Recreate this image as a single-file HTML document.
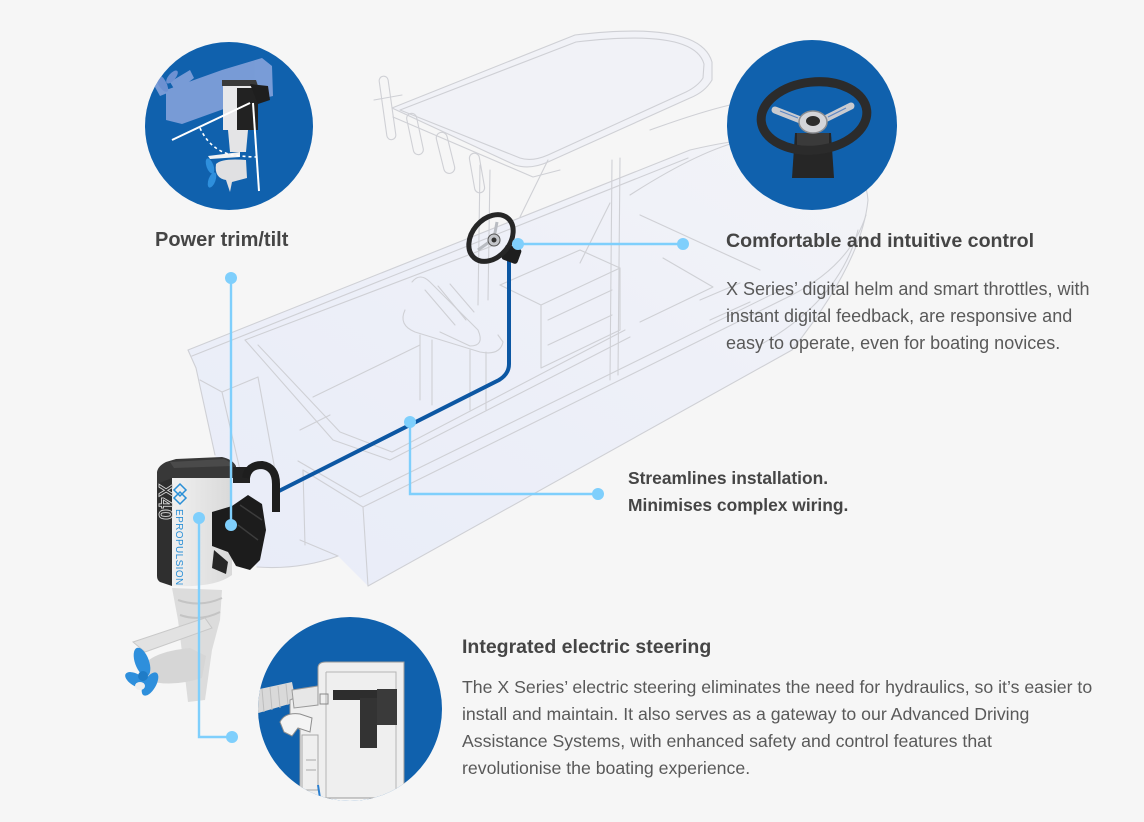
<!DOCTYPE html>
<html><head><meta charset="utf-8">
<style>
html,body{margin:0;padding:0;background:#f6f6f6;}
body{width:1144px;height:822px;position:relative;overflow:hidden;font-family:"Liberation Sans",Arial,sans-serif;}
svg{position:absolute;left:0;top:0;}
.t{position:absolute;white-space:nowrap;}
.h{font-weight:bold;font-size:19.6px;line-height:24px;color:#454545;}
.p{font-size:18px;line-height:27px;color:#595959;}
</style></head><body>
<svg width="1144" height="822" viewBox="0 0 1144 822" xmlns="http://www.w3.org/2000/svg">
<defs>
  <linearGradient id="hullg" x1="0" y1="1" x2="1" y2="0">
    <stop offset="0" stop-color="#e8ecf8"/>
    <stop offset="0.6" stop-color="#eef0f8"/>
    <stop offset="1" stop-color="#f3f4f7"/>
  </linearGradient>
  <linearGradient id="cowlg" x1="0" y1="0" x2="1" y2="0">
    <stop offset="0" stop-color="#f0f0f0"/>
    <stop offset="1" stop-color="#d9d9d9"/>
  </linearGradient>
  <clipPath id="c1"><circle cx="229" cy="126" r="84"/></clipPath>
  <clipPath id="c2"><circle cx="812" cy="125" r="85"/></clipPath>
  <clipPath id="c3"><circle cx="350" cy="709" r="92"/></clipPath>
</defs>

<!-- ===== BOAT ===== -->
<g stroke-linejoin="round" stroke-linecap="round">
  <path d="M188,350 L690,150 Q860,110 868,200 Q862,262 792,350 L368,586 L338,556 Q300,570 257,567 L240,540 L215,455 L196,368 Z" fill="url(#hullg)"/>
  <path d="M392,108 L575,35 Q700,20 712,62 L712,80 Q705,92 690,98 L548,162 Q530,170 515,165 Z" fill="#f1f2f7"/>
</g>
<g fill="none" stroke="#cfd0d5" stroke-width="1.1" stroke-linejoin="round" stroke-linecap="round">
  <path d="M188,350 L690,150 Q860,110 868,200 Q862,262 792,350 L368,586"/>
  <path d="M192,356 L688,158"/>
  <path d="M188,350 L196,368 L215,455"/>
  <path d="M200,380 L222,392 L240,470"/>
  <path d="M222,392 L258,377 L275,470"/>
  <path d="M303,470 L305,545"/>
  <path d="M363,507 L368,586"/>
  <path d="M338,556 Q300,570 257,567"/>
  <path d="M300,540 L338,556"/>
  <path d="M303,470 L363,507 L790,296 Q850,266 866,215"/>
  <path d="M298,461 L360,497 L785,288"/>
  <path d="M245,340 L500,243"/>
  <path d="M245,340 L333,440 L390,460 L630,337"/>
  <path d="M258,345 L340,432 L392,452 L625,330"/>
  <path d="M313,397 L420,345"/>
  <path d="M330,415 L300,430"/>
  <path d="M541,305 L541,368 M500,285 L541,305 L620,268 M541,368 L620,330 L620,268 M500,285 L580,250 L620,268"/>
  <path d="M548,320 L612,290 M548,345 L612,315"/>
  <path d="M412,282 Q420,272 430,282 L478,330 Q485,346 470,346 L440,332"/>
  <path d="M405,310 Q398,325 415,332 L480,352 Q500,356 503,342 L498,335"/>
  <path d="M420,335 L420,400 M432,340 L432,405 M470,350 L470,410 M486,352 L486,410"/>
  <path d="M425,290 L455,325 M438,286 L466,320 M450,284 L474,312"/>
  <path d="M392,108 L575,35 Q700,20 712,62 L712,80 Q705,92 690,98 L548,162 Q530,170 515,165 Z"/>
  <path d="M400,110 L576,42 Q694,28 704,64 L703,78 Q698,86 686,92 L548,155 Q532,162 520,158 Z"/>
  <path d="M393,117 L533,177 L560,170"/>
  <path d="M480,165 L478,305 M490,170 L488,300"/>
  <path d="M612,160 L610,380 M620,158 L618,375"/>
  <path d="M580,263 L610,203 M548,160 L520,217"/>
  <path d="M374,100 L402,95"/>
  <rect x="383" y="76" width="9" height="64" rx="4.5" transform="rotate(-8 387 108)"/>
  <rect x="410" y="113" width="10" height="42" rx="5" transform="rotate(-12 415 134)"/>
  <rect x="440" y="132" width="11" height="42" rx="5.5" transform="rotate(-14 445 153)"/>
  <rect x="472" y="153" width="10" height="40" rx="5" transform="rotate(-10 477 173)"/>
  <path d="M630,195 Q700,150 745,140"/>
  <path d="M650,130 Q700,112 730,105"/>
  <path d="M640,215 L760,270"/>
  <path d="M663,258 L713,287 L640,322"/>
  <path d="M700,300 L740,283 M710,320 L750,302"/>
  <path d="M760,345 Q840,300 858,230"/>
</g>

<!-- connectors (light blue) -->
<g fill="none" stroke="#7fcffc" stroke-width="2.4">
  <path d="M518,244 L683,244"/>
  <path d="M410,422 L410,494 L598,494"/>
</g>

<!-- dark cable -->
<path d="M509,258 L509,364 Q509,374 499,380 L275,493" fill="none" stroke="#0c57a3" stroke-width="4"/>

<!-- small steering wheel on boat -->
<g>
  <rect x="503" y="246" width="17" height="16" rx="3" fill="#1e1e1e" transform="rotate(20 511 254)"/>
  <ellipse cx="491" cy="238" rx="19" ry="26" transform="rotate(40 491 238)" fill="none" stroke="#262626" stroke-width="5"/>
  <path d="M478,250 L492,240 M497,222 L494,238" stroke="#b9bcc2" stroke-width="3"/>
  <circle cx="494" cy="240" r="6" fill="#c4c6cb" stroke="#555" stroke-width="1"/>
  <circle cx="494" cy="240" r="2.5" fill="#333"/>
</g>

<!-- ===== OUTBOARD MOTOR ===== -->
<g>
  <path d="M172,588 L222,590 L220,620 L212,650 L205,700 L188,702 L183,660 L178,620 Z" fill="#dcdcdc"/>
  <path d="M178,600 Q200,608 222,598 M180,615 Q200,622 220,612" stroke="#c4c4c4" stroke-width="2" fill="none"/>
  <path d="M133,642 L205,618 L212,628 L145,652 Z" fill="#e2e2e2" stroke="#c8c8c8" stroke-width="1"/>
  <path d="M142,668 Q150,652 190,648 L206,656 L202,678 Q170,688 146,680 Z" fill="#d6d6d6"/>
  <g fill="#2e8fdc">
    <ellipse cx="142" cy="662" rx="7" ry="15" transform="rotate(-20 142 662)"/>
    <ellipse cx="150" cy="684" rx="6" ry="13" transform="rotate(30 150 684)"/>
    <ellipse cx="136" cy="680" rx="6" ry="12" transform="rotate(-60 136 680)"/>
    <circle cx="143" cy="676" r="5" fill="#1f7cc7"/>
  </g>
  <ellipse cx="140" cy="686" rx="5" ry="4" fill="#eeeeee"/>
  <!-- cowl -->
  <path d="M157,476 L172,476 L172,586 L160,582 Q157,580 157,576 Z" fill="#2f2f2f"/>
  <path d="M172,476 L232,476 L232,575 Q215,588 172,586 Z" fill="url(#cowlg)"/>
  <path d="M157,484 L157,472 Q158,466 166,462 L176,459 L222,457 Q232,459 236,466 L236,478 L172,478 L157,484 Z" fill="#383838"/>
  <path d="M170,462 L224,459 Q230,461 232,466 L174,468 Z" fill="#4a4a4a"/>
  <!-- X40 text -->
  <text x="0" y="0" transform="translate(159,484) rotate(90)" font-family="Liberation Sans, sans-serif" font-size="19" font-weight="bold" fill="none" stroke="#d6d6d6" stroke-width="0.9" letter-spacing="1">X40</text>
  <!-- EPROPULSION logo -->
  <g transform="translate(180,490)">
    <path d="M0,-6 L6,0 L0,6 L-6,0 Z M0,2 L6,8 L0,14 L-6,8 Z" fill="none" stroke="#2a8fd6" stroke-width="1.5"/>
  </g>
  <text x="0" y="0" transform="translate(176,509) rotate(90)" font-family="Liberation Sans, sans-serif" font-size="10" fill="#2a8fd6" letter-spacing="0.4">EPROPULSION</text>
  <!-- bracket -->
  <path d="M233,467 L250,467 L250,483 L233,483 Z" fill="#222"/>
  <path d="M212,512 L232,506 L248,495 L262,504 L266,530 L260,560 L250,570 L236,566 L228,552 L212,546 Z" fill="#1c1c1c"/>
  <path d="M214,550 L228,562 L226,574 L212,568 Z" fill="#262626"/>
  <path d="M240,505 L262,520 M238,525 L258,540" stroke="#3c3c3c" stroke-width="1.5"/>
  <!-- hose -->
  <path d="M246,478 Q248,465 262,465 Q276,467 276,484 L276,512" fill="none" stroke="#1e1e1e" stroke-width="8"/>
</g>

<!-- connectors over outboard -->
<g fill="none" stroke="#7fcffc" stroke-width="2.4">
  <path d="M231,278 L231,525"/>
  <path d="M199,518 L199,737 L232,737"/>
</g>

<!-- ===== CIRCLE 1 ===== -->
<circle cx="229" cy="126" r="84" fill="#1061ad"/>
<g clip-path="url(#c1)">
  <g fill="#7f9fd9" opacity="0.95">
    <path d="M166,90 L222,70 L262,58 L272,66 L273,96 L232,106 L182,124 L166,120 Z"/>
    <path d="M150,78 L160,74 L170,92 L160,96 Z"/>
    <path d="M170,82 L190,70 L194,78 L176,92 Z"/>
  </g>
  <g fill="#6d91d2">
    <ellipse cx="162" cy="83" rx="4" ry="10" transform="rotate(-30 162 83)"/>
    <ellipse cx="172" cy="77" rx="3.5" ry="8" transform="rotate(40 172 77)"/>
  </g>
  <path d="M223,84 L256,84 L256,130 L223,130 Z" fill="#e8e8ea"/>
  <path d="M237,88 L258,88 L258,130 L237,130 Z" fill="#222"/>
  <path d="M222,80 L256,80 L258,86 L222,86 Z" fill="#3a3a3a"/>
  <path d="M250,84 L268,86 L270,100 L258,104 Z" fill="#1e1e1e"/>
  <path d="M228,130 L248,130 L246,152 L230,152 Z" fill="#e4e4e6"/>
  <path d="M208,156 L240,152 L240,157 L210,159 Z" fill="#f2f2f2"/>
  <path d="M216,164 Q222,158 246,160 L247,178 L232,182 L230,192 L226,180 Q214,178 216,164 Z" fill="#e0e0e2"/>
  <g fill="#2e8fdc">
    <ellipse cx="210" cy="166" rx="3.5" ry="8" transform="rotate(-20 210 166)"/>
    <ellipse cx="212" cy="180" rx="3.5" ry="8" transform="rotate(20 212 180)"/>
  </g>
  <path d="M172,140 L250,103" stroke="#ffffff" stroke-width="2" fill="none"/>
  <path d="M253,103 L259,191" stroke="#ffffff" stroke-width="2" fill="none"/>
  <path d="M200,128 Q210,150 232,155 Q248,157 258,157" stroke="#ffffff" stroke-width="1.6" stroke-dasharray="3,3" fill="none"/>
</g>

<!-- ===== CIRCLE 2 ===== -->
<circle cx="812" cy="125" r="85" fill="#1061ad"/>
<g clip-path="url(#c2)">
  <path d="M795,133 L831,133 L834,178 L792,178 Z" fill="#262626"/>
  <path d="M797,133 L829,133 L829,150 L797,150 Z" fill="#3a3a3a"/>
  <ellipse cx="814" cy="116" rx="53" ry="34" transform="rotate(-6 814 116)" fill="none" stroke="#2b2b2b" stroke-width="9"/>
  <path d="M775,110 L803,121 M851,106 L823,120" stroke="#c9cbd0" stroke-width="7" stroke-linecap="round"/>
  <path d="M780,111 L798,118 M846,108 L828,117" stroke="#5b86c4" stroke-width="1.2"/>
  <ellipse cx="813" cy="122" rx="14" ry="11" fill="#d4d5d9" stroke="#8a8c90" stroke-width="1.5"/>
  <ellipse cx="813" cy="121" rx="7" ry="5" fill="#2d2d2d"/>
</g>

<!-- ===== CIRCLE 3 ===== -->
<circle cx="350" cy="709" r="92" fill="#1061ad"/>
<g clip-path="url(#c3)">
  <rect x="250" y="798" width="200" height="20" fill="#f6f6f6"/>
  <path d="M255,690 L292,682 L296,702 L255,714 Z" fill="#d9d9d9"/>
  <path d="M262,689 L264,712 M270,687 L272,710 M278,686 L280,708 M286,684 L288,705" stroke="#bdbdbd" stroke-width="1"/>
  <path d="M318,668 Q318,662 326,662 L404,662 L404,798 L300,798 L300,730 L290,720 L290,700 L318,688 Z" fill="#efefef" stroke="#9a9a9a" stroke-width="1"/>
  <path d="M326,672 L396,672 L396,798 M326,672 L326,798" fill="none" stroke="#b4b4b4" stroke-width="1"/>
  <path d="M292,690 L318,686 L318,705 L294,708 Z" fill="#e7e7e7" stroke="#999" stroke-width="1"/>
  <rect x="320" y="694" width="8" height="10" fill="none" stroke="#888" stroke-width="1"/>
  <path d="M280,722 Q285,712 300,714 L312,718 L310,732 L298,728 L292,736 L284,732 Z" fill="#f4f4f4" stroke="#8e8e8e" stroke-width="1"/>
  <path d="M302,735 L302,790 L318,790 L318,735 Z" fill="none" stroke="#a8a8a8" stroke-width="1"/>
  <path d="M306,760 L316,760 M306,770 L316,770" stroke="#a8a8a8" stroke-width="1"/>
  <path d="M333,690 L378,690 L378,700 L333,700 Z" fill="#2d2d2d"/>
  <path d="M360,698 L377,698 L377,748 L360,748 Z" fill="#333"/>
  <path d="M377,689 L397,689 L397,725 L377,725 Z" fill="#3a3a3a"/>
  <path d="M318,785 L320,798" stroke="#2a7fd0" stroke-width="2"/>
</g>

<!-- dots -->
<g fill="#7fcffc">
  <circle cx="518" cy="244" r="6"/>
  <circle cx="683" cy="244" r="6"/>
  <circle cx="410" cy="422" r="6"/>
  <circle cx="598" cy="494" r="6"/>
  <circle cx="231" cy="278" r="6"/>
  <circle cx="231" cy="525" r="6"/>
  <circle cx="199" cy="518" r="6"/>
  <circle cx="232" cy="737" r="6"/>
</g>
</svg>

<div class="t h" style="left:155px;top:228px;font-size:20px">Power trim/tilt</div>
<div class="t h" style="left:726px;top:229px">Comfortable and intuitive control</div>
<div class="t p" style="left:726px;top:276px">X Series’ digital helm and smart throttles, with<br>instant digital feedback, are responsive and<br>easy to operate, even for boating novices.</div>
<div class="t h" style="left:628px;top:465px;font-size:17.4px;line-height:27px">Streamlines installation.<br>Minimises complex wiring.</div>
<div class="t h" style="left:462px;top:635px;font-size:19.5px">Integrated electric steering</div>
<div class="t p" style="left:462px;top:674px;font-size:17.7px">The X Series’ electric steering eliminates the need for hydraulics, so it’s easier to<br>install and maintain. It also serves as a gateway to our Advanced Driving<br>Assistance Systems, with enhanced safety and control features that<br>revolutionise the boating experience.</div>
</body></html>
